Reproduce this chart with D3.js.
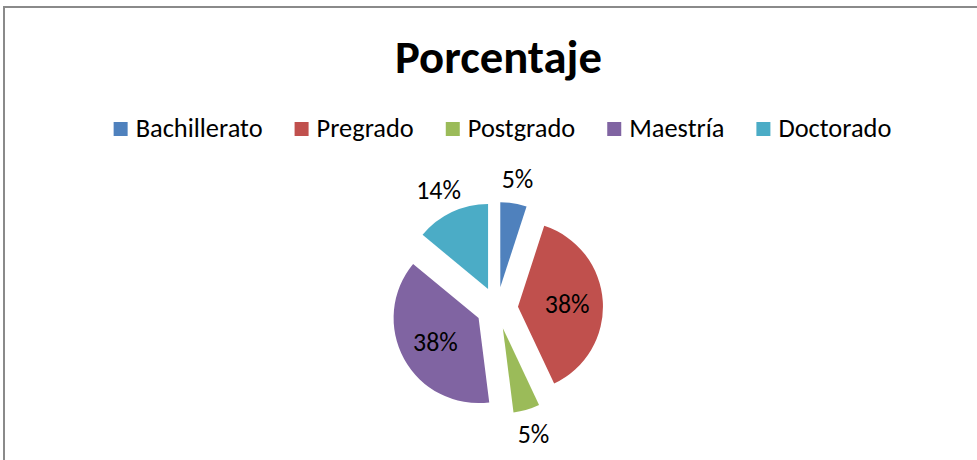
<!DOCTYPE html>
<html>
<head>
<meta charset="utf-8">
<script src="https://cdn.jsdelivr.net/npm/d3@7"></script>
<style>
  html, body { margin: 0; padding: 0; background: #fff; }
  svg { display: block; }
</style>
</head>
<body>
<svg id="chart" width="977" height="460"></svg>
<script>
const title = "Porcentaje";
const categories = ["Bachillerato", "Pregrado", "Postgrado", "Maestría", "Doctorado"];
const values = [5, 38, 5, 38, 14];
const colors = ["#4F81BD", "#C0504D", "#9BBB59", "#8064A2", "#4BACC6"];
const labelInside = [false, true, false, true, false];

const W = 977, H = 460;
const FONT = "Carlito, Calibri, Lato, 'Open Sans', sans-serif";
const svg = d3.select("#chart");

// chart frame
svg.append("rect")
  .attr("x", 4).attr("y", 7).attr("width", 988).attr("height", 520)
  .attr("fill", "#fff").attr("stroke", "#8a8a8a").attr("stroke-width", 2);

// fit a text node's width to a target width by adjusting font size
function fitWidth(sel, target) {
  const node = sel.node();
  const fs = parseFloat(sel.attr("font-size"));
  const w = node.getComputedTextLength();
  sel.attr("font-size", (fs * target / w).toFixed(2));
}

// Title
const t = svg.append("text")
  .attr("x", 498.5).attr("y", 73)
  .attr("text-anchor", "middle")
  .attr("font-family", FONT).attr("font-weight", "bold")
  .attr("font-size", 40).attr("fill", "#000")
  .text(title);
fitWidth(t, 207);

// Legend
const legendY = 129;     // vertical center of markers
const sw = 14, gapText = 8, gapItem = 32;
const lg = svg.append("g");
const items = lg.selectAll("g.item").data(categories).join("g").attr("class", "item");
items.append("rect").attr("width", sw).attr("height", sw)
  .attr("y", legendY - sw / 2)
  .attr("fill", (d, i) => colors[i]);
const lt = items.append("text")
  .attr("x", sw + gapText).attr("y", legendY + 7.5)
  .attr("font-family", FONT).attr("font-size", 21).attr("fill", "#000")
  .text(d => d);
// scale font so "Bachillerato" matches reference width
const first = lt.filter((d, i) => i === 0);
const fs0 = 21, w0 = first.node().getComputedTextLength();
const fsL = fs0 * 127 / w0;
lt.attr("font-size", fsL.toFixed(2));
let xCur = 0;
const widths = [];
lt.each(function () { widths.push(this.getComputedTextLength()); });
const offsets = widths.map(w => { const o = xCur; xCur += sw + gapText + w + gapItem; return o; });
const total = xCur - gapItem;
const legendX = 502.5 - total / 2;
items.attr("transform", (d, i) => `translate(${legendX + offsets[i]},0)`);

// Pie
const cx = 497, cy = 308, R = 85, explode = 21;
const pie = d3.pie().sort(null).value(d => d).startAngle(0).endAngle(2 * Math.PI);
const arcs = pie(values);
const arc = d3.arc().innerRadius(0).outerRadius(R);
const pg = svg.append("g").attr("transform", `translate(${cx},${cy})`);
const dir = a => [Math.sin(a), -Math.cos(a)];

pg.selectAll("path").data(arcs).join("path")
  .attr("d", arc)
  .attr("fill", (d, i) => colors[i])
  .attr("transform", d => {
    const m = (d.startAngle + d.endAngle) / 2, [ux, uy] = dir(m);
    return `translate(${ux * explode},${uy * explode})`;
  });

// Data labels
const labFs = fsL * 0.98;
const labels = pg.selectAll("text.lab").data(arcs).join("text")
  .attr("class", "lab")
  .attr("font-family", FONT).attr("font-size", labFs.toFixed(2)).attr("fill", "#000")
  .attr("text-anchor", "middle")
  .text(d => d3.format("d")(d.value) + "%");

labels.each(function (d, i) {
  const m = (d.startAngle + d.endAngle) / 2, [ux, uy] = dir(m);
  const bb = this.getBBox();
  let x, y;
  if (labelInside[i]) {
    const dist = explode + R * 0.58;
    x = ux * dist; y = uy * dist;
  } else {
    const dist = explode + R + 9;
    x = ux * dist + ux * bb.width / 2;
    y = uy * dist + uy * bb.height / 2;
  }
  d3.select(this).attr("x", x).attr("y", y + labFs * 0.35);
});
</script>
</body>
</html>
